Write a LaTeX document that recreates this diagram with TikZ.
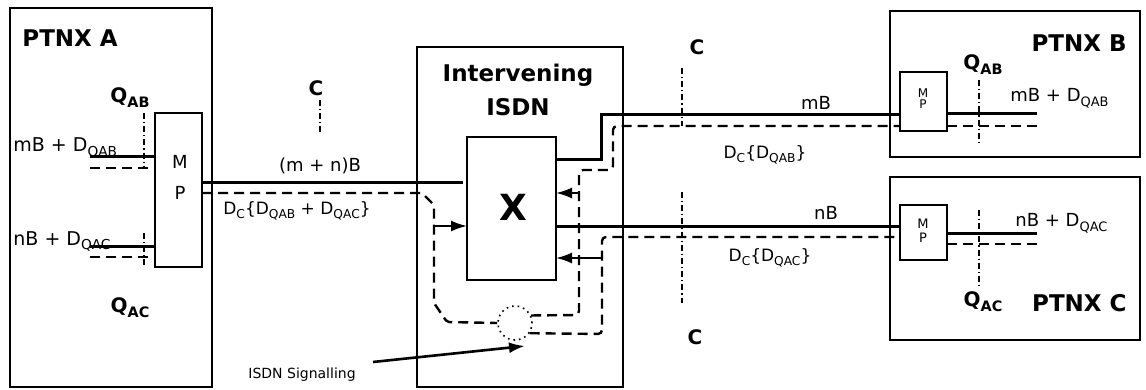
\documentclass[tikz,border=0pt]{standalone}
\usepackage{fontspec}
\setmainfont{DejaVu Sans}
\usepackage{graphicx}
\usetikzlibrary{arrows.meta}
\newcommand{\sbs}[1]{\raisebox{-0.45ex}{\scalebox{0.72}{#1}}}
\newcommand{\fs}[1]{\fontsize{#1}{#1}\selectfont}
\begin{document}
\begin{tikzpicture}[x=0.5pt,y=-0.5pt,
  box/.style={draw, line width=1.1pt, inner sep=0pt, outer sep=0pt},
  sig/.style={line width=1.5pt},
  ctl/.style={line width=1.2pt, dash pattern=on 5pt off 3pt},
  cut/.style={line width=0.6pt, dash pattern=on 3pt off 1.5pt on 0.6pt off 1.5pt},
  arr/.style={-{Latex[length=8pt,width=5.5pt]}, line width=1pt},
  title/.style={font=\fs{11.5}\bfseries, inner sep=0pt},
  lbl/.style={font=\fs{9}, inner sep=0pt},
  qlbl/.style={font=\fs{10}\bfseries, inner sep=0pt},
  small/.style={font=\fs{7}, inner sep=0pt}]
\useasboundingbox (0,0) rectangle (1146,390);

% boxes
\node[box, minimum width=101pt, minimum height=189.5pt] (ptnxa) at (111,197.5) {};
\node[box, minimum width=23.5pt, minimum height=77pt] (mpa) at (178.5,190) {};
\node[box, minimum width=103pt, minimum height=170pt] (isdn) at (520,217) {};
\node[box, minimum width=44.5pt, minimum height=71.5pt] (xbox) at (511.5,208.5) {};
\node[box, minimum width=125pt, minimum height=73pt] (ptnxb) at (1015,84) {};
\node[box, minimum width=23.5pt, minimum height=29.5pt] (mpb) at (923.5,101.5) {};
\node[box, minimum width=125pt, minimum height=81.5pt] (ptnxc) at (1015,258.5) {};
\node[box, minimum width=23.5pt, minimum height=27.5pt] (mpc) at (923.5,232.5) {};
\node[draw, dotted, line width=0.8pt, circle, inner sep=0pt, minimum size=17pt] (sigc) at (515,323) {};

% box texts
\node[title, anchor=west] (ta) at (22,38) {PTNX A};
\node[title, anchor=east] (tb) at (1127,43) {PTNX B};
\node[title, anchor=east] (tc) at (1127,303) {PTNX C};
\node[title] (ti1) at (518,75) {Intervening};
\node[title] (ti2) at (518,107) {ISDN};
\node[font=\fs{18}\bfseries, inner sep=0pt] (tx) at (513,207) {X};
\node[lbl] (ma) at (180,162) {M};
\node[lbl] (pa) at (180,193) {P};
\node[font=\fs{6}, inner sep=0pt] (mb) at (923,93) {M};
\node[font=\fs{6}, inner sep=0pt] (pb) at (923,104) {P};
\node[font=\fs{6.5}, inner sep=0pt] (mc) at (923,224) {M};
\node[font=\fs{6.5}, inner sep=0pt] (pc) at (923,238) {P};

% PTNX A internals
\coordinate (a1) at (90,157); \draw[sig] (a1) -- (mpa.west |- a1);
\coordinate (a2) at (90,168); \draw[ctl] (a2) -- (mpa.west |- a2);
\coordinate (a3) at (90,246); \draw[sig] (a3) -- (mpa.west |- a3);
\coordinate (a4) at (90,257); \draw[ctl] (a4) -- (mpa.west |- a4);
\draw[cut] (144,113) -- (144,168);
\draw[cut] (144,233) -- (144,267);
\node[font=\fs{9.5}, inner sep=0pt, anchor=base west] (la1) at (13,152) {mB + D\sbs{QAB}};
\node[font=\fs{9.5}, inner sep=0pt, anchor=base west] (la2) at (13,245) {nB + D\sbs{QAC}};
\node[qlbl] (qa1) at (130,98) {Q\sbs{AB}};
\node[qlbl] (qa2) at (130,308) {Q\sbs{AC}};

% trunk A -> ISDN
\draw[sig] (mpa.east |- 0,182) -- (463,182);
\draw[ctl, rounded corners=1pt] (mpa.east |- 0,193) -- (422,193) -- (434,205) -- (434,303) -- (447,322) -- (sigc.west);
\draw[arr] (434,226) -- (xbox.west |- 0,226);
\draw[cut] (320,100) -- (320,132);
\node[qlbl] (c1) at (316,88) {C};
\node[lbl] (lmn) at (320,166) {(m + n)B};
\node[font=\fs{8.5}, inner sep=0pt] (ld1) at (297,211) {D\sbs{C}\{D\sbs{QAB} + D\sbs{QAC}\}};

% ISDN -> B and C
\draw[sig] (xbox.east |- 0,160) -- (601,160) -- (601,115) -- (mpb.west |- 0,115);
\draw[sig] (xbox.east |- 0,226) -- (mpc.west |- 0,226);
\draw[ctl, rounded corners=2pt] (sigc.25) -- (579,315) -- (579,170) -- (613,170) -- (613,126) -- (mpb.west |- 0,126);
\draw[ctl, rounded corners=2pt] (sigc.-35) -- (602,334) -- (602,237) -- (mpc.west |- 0,237);
\draw[arr] (579,193) -- (xbox.east |- 0,193);
\draw[arr] (602,258) -- (xbox.east |- 0,258);
\draw[cut] (682,68) -- (682,126);
\draw[cut] (682,192) -- (682,303);
\node[qlbl] (c2) at (697,47) {C};
\node[qlbl] (c3) at (695,337) {C};
\node[lbl] (lmb) at (816,103) {mB};
\node[lbl] (lnb) at (826,213) {nB};
\node[font=\fs{8.5}, inner sep=0pt] (ld2) at (765,155) {D\sbs{C}\{D\sbs{QAB}\}};
\node[font=\fs{8.5}, inner sep=0pt] (ld3) at (770,258) {D\sbs{C}\{D\sbs{QAC}\}};

% PTNX B / C internals
\coordinate (b1) at (1037,114); \draw[sig] (mpb.east |- b1) -- (b1);
\coordinate (b2) at (1037,126); \draw[ctl] (mpb.east |- b2) -- (b2);
\coordinate (c1e) at (1037,233); \draw[sig] (mpc.east |- c1e) -- (c1e);
\coordinate (c2e) at (1037,244); \draw[ctl] (mpc.east |- c2e) -- (c2e);
\draw[cut] (979,80) -- (979,145);
\draw[cut] (979,210) -- (979,287);
\node[qlbl] (qb) at (983,65) {Q\sbs{AB}};
\node[qlbl] (qc) at (983,302) {Q\sbs{AC}};
\node[font=\fs{9}, inner sep=0pt, anchor=base west] (lb1) at (1010,102) {mB + D\sbs{QAB}};
\node[font=\fs{9}, inner sep=0pt, anchor=base west] (lc1) at (1015,227) {nB + D\sbs{QAC}};

% signalling
\node[small, anchor=west] (lsig) at (248,375) {ISDN Signalling};
\coordinate (sgs) at (373,362);
\coordinate (sgt) at (525,346);
\draw[arr, line width=1.3pt] (sgs) -- (sgt);
\end{tikzpicture}
\end{document}
